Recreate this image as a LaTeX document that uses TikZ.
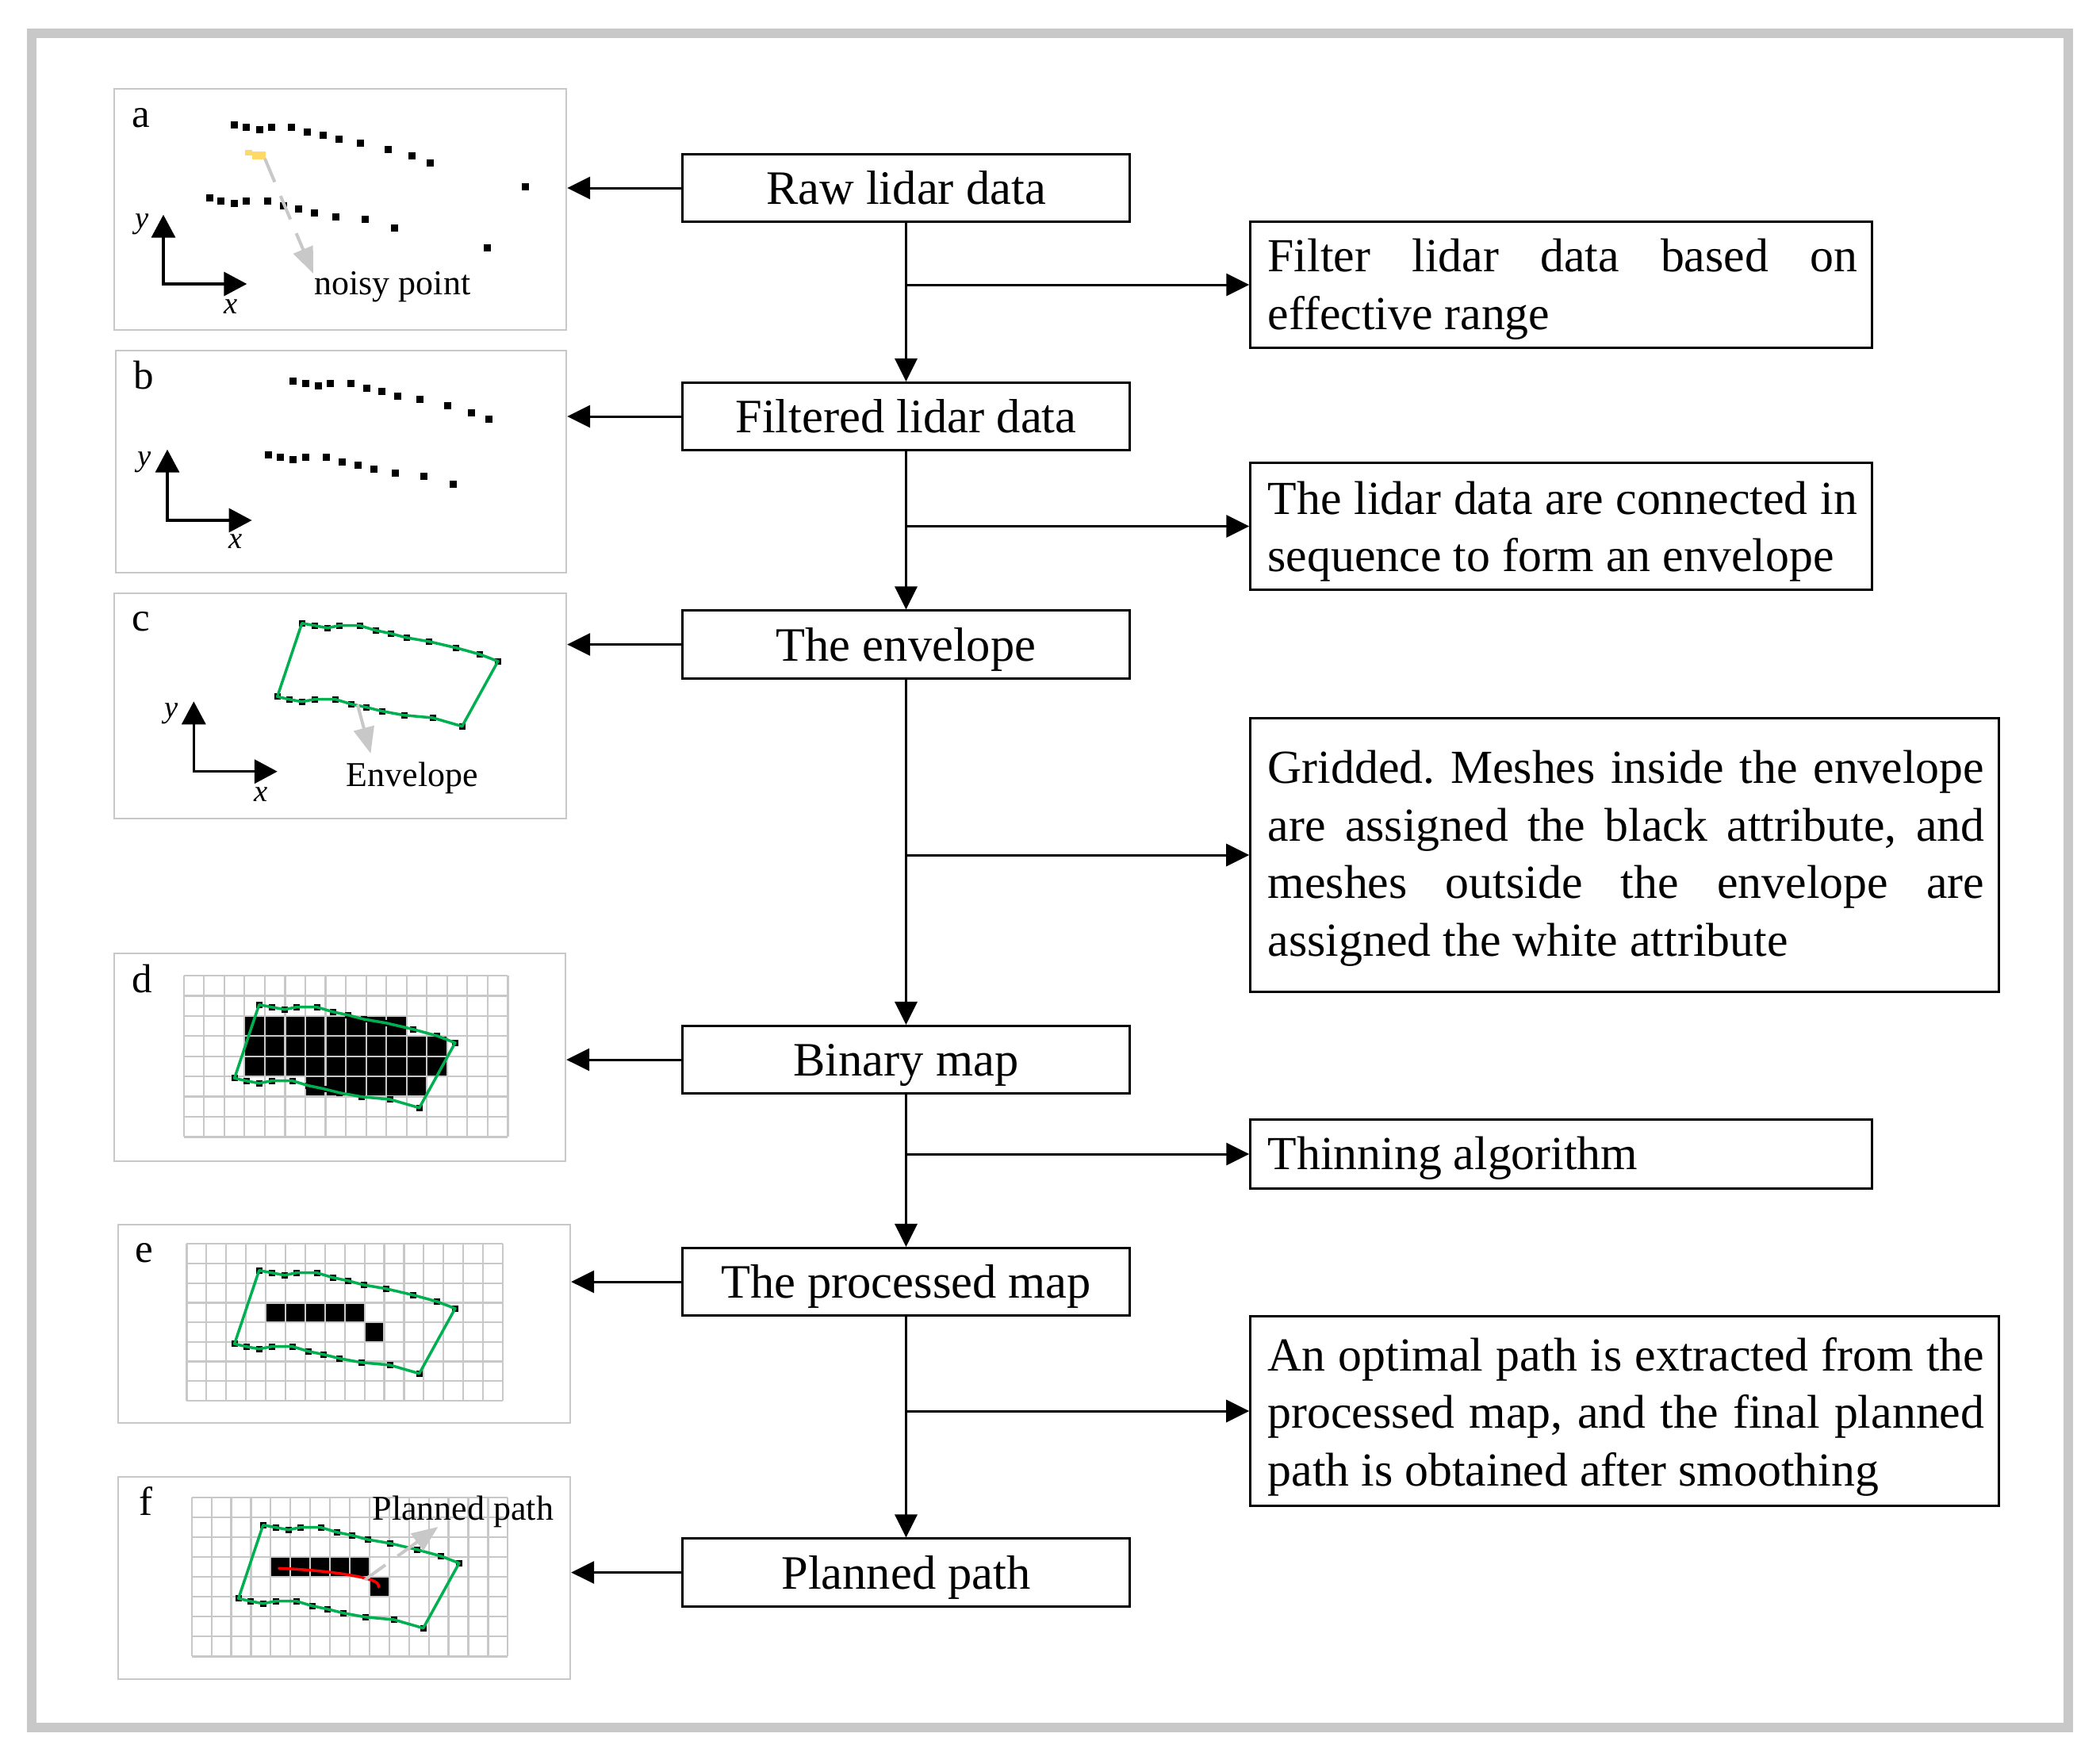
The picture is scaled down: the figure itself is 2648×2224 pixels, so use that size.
\documentclass[tikz,border=0pt]{standalone}
\usepackage{fontspec}
\setmainfont{Liberation Serif}
\usetikzlibrary{arrows.meta}
\definecolor{lgray}{RGB}{200,200,200}
\definecolor{envgreen}{RGB}{0,176,80}
\definecolor{noisy}{RGB}{255,217,102}
\newcommand\toppts{369.7/480.7, 385.6/483.7, 401.9/486.7, 416.7/483.7, 442.6/483.7, 462.6/489.7, 481.8/493.7, 501.8/499, 529.6/503.7, 564/511.7, 594.3/520, 616.9/528.7}
\newcommand\botpts{338.7/573.3, 353.5/576.7, 369.7/579.7, 385.6/576.7, 411.9/576.7, 431.9/582.7, 451.1/586.7, 471.1/591.7, 498.5/596.7, 534.7/600, 571.7/610.7}
\newcommand\envpath{(369.7,480.7) -- (385.6,483.7) -- (401.9,486.7) -- (416.7,483.7) -- (442.6,483.7) -- (462.6,489.7) -- (481.8,493.7) -- (501.8,499) -- (529.6,503.7) -- (564,511.7) -- (594.3,520) -- (616.9,528.7) -- (571.7,610.7) -- (534.7,600) -- (498.5,596.7) -- (471.1,591.7) -- (451.1,586.7) -- (431.9,582.7) -- (411.9,576.7) -- (385.6,576.7) -- (369.7,579.7) -- (353.5,576.7) -- (338.7,573.3) -- cycle}
\newcommand\jl[2]{\makebox[#1][s]{#2}}
\newcommand\ns{\spaceskip=0pt\relax\xspaceskip=0pt\relax}
\newcommand\gridlines{%
  \foreach \i in {0,...,16} {\draw[gridl] (\i,0) -- (\i,8);}
  \foreach \j in {0,...,8} {\draw[gridl] (0,\j) -- (16,\j);}}
\frenchspacing
\begin{document}
\begin{tikzpicture}[x=0.01cm,y=-0.01cm,
  panel/.style={draw=lgray, line width=0.02cm, inner sep=0, fill=white},
  cbox/.style={draw, line width=0.03cm, minimum width=5.63cm, minimum height=0.85cm, inner sep=0, text height=0.41cm, text depth=0cm, font=\fontsize{17.2pt}{20.5pt}\selectfont},
  rbox/.style={draw, line width=0.03cm, inner sep=0},
  rtext/.style={inner sep=0, anchor=north west, align=left, font=\fontsize{17pt}{20.6pt}\selectfont},
  arr/.style={line width=0.03cm, -{Triangle[length=0.29cm,width=0.28cm]}},
  axis/.style={line width=0.035cm, {Triangle[length=0.29cm,width=0.30cm]}-{Triangle[length=0.29cm,width=0.30cm]}},
  garr/.style={draw=lgray, line width=0.04cm, -{Triangle[length=0.33cm,width=0.26cm]}},
  gdash/.style={dash pattern=on 0.32cm off 0.19cm},
  env/.style={draw=envgreen, line width=0.035cm, line join=round},
  gridl/.style={draw=lgray, line width=0.022cm},
  lbl/.style={font=\fontsize{14.5pt}{17pt}\selectfont, inner sep=0, anchor=base west},
  ann/.style={font=\fontsize{12.5pt}{15pt}\selectfont, inner sep=0, anchor=base west},
  axl/.style={font=\fontsize{11pt}{13pt}\selectfont\itshape, inner sep=0}]
\useasboundingbox (0,0) rectangle (2648,2224);
\draw[draw=lgray, line width=0.12cm] (40,42) rectangle (2608,2178);

% panels
\node[panel, minimum width=5.70cm, minimum height=3.04cm] (pa) at (429,264) {};
\node[panel, minimum width=5.68cm, minimum height=2.80cm] (pb) at (430,582) {};
\node[panel, minimum width=5.70cm, minimum height=2.84cm] (pc) at (429,890) {};
\node[panel, minimum width=5.69cm, minimum height=2.62cm] (pd) at (428.5,1333) {};
\node[panel, minimum width=5.70cm, minimum height=2.50cm] (pe) at (434,1669) {};
\node[panel, minimum width=5.70cm, minimum height=2.55cm] (pf) at (434,1989.5) {};

\node[lbl] (la) at (166,160) {a};
\node[lbl] (lb) at (168,490) {b};
\node[lbl] (lc) at (166,795) {c};
\node[lbl] (ld) at (166,1251.7) {d};
\node[lbl] (le) at (170,1591.7) {e};
\node[lbl] (lf) at (175,1910) {f};

% panel a
\begin{scope}[shift={(-74.7,-323.5)}]
\foreach \x/\y in \toppts {\fill (\x-4.5,\y-4.5) rectangle (\x+4.5,\y+4.5);}
\foreach \x/\y in \botpts {\fill (\x-4.5,\y-4.5) rectangle (\x+4.5,\y+4.5);}
\end{scope}
\fill (657.5,231.2) rectangle (666.5,240.2);
\fill (609.5,308.2) rectangle (618.5,317.2);
\fill[noisy] (309.4,189) rectangle (317.6,195.7);
\fill[noisy] (317.6,191) rectangle (335,200.7);
\coordinate (na) at (334,200);
\coordinate (nb) at (395,345);
\draw[garr, gdash] (na) -- (nb);
\node[ann] (tnoisy) at (396,371.7) {noisy point};
\draw[axis] (206,270.7) -- (206,358) -- (311.3,358);
\node[axl] (ya) at (179,283) {y};
\node[axl] (xa) at (291,387) {x};

% panel b
\foreach \x/\y in \toppts {\fill (\x-4.5,\y-4.5) rectangle (\x+4.5,\y+4.5);}
\foreach \x/\y in \botpts {\fill (\x-4.5,\y-4.5) rectangle (\x+4.5,\y+4.5);}
\draw[axis] (211,566.7) -- (211,656) -- (317.6,656);
\node[axl] (yb) at (182.5,583) {y};
\node[axl] (xb) at (297,683) {x};

% panel c
\begin{scope}[shift={(11,305)}]
\foreach \x/\y in \toppts {\fill (\x-4,\y-4) rectangle (\x+4,\y+4);}
\foreach \x/\y in \botpts {\fill (\x-4,\y-4) rectangle (\x+4,\y+4);}
\draw[env] \envpath;
\end{scope}
\coordinate (ea) at (450.8,888.3);
\coordinate (eb) at (467.4,950);
\draw[garr] (ea) -- (eb);
\node[ann] (tenv) at (436,991.7) {Envelope};
\draw[axis] (244.3,884.3) -- (244.3,972.7) -- (349.8,972.7);
\node[axl] (yc) at (215.8,900) {y};
\node[axl] (xc) at (329.4,1001.7) {x};

% panel d
\begin{scope}[shift={(231.7,1230)}, x=0.2553cm, y=-0.2541cm]
\fill (3,2) rectangle (11,3);
\fill (3,3) rectangle (13,5);
\fill (6,5) rectangle (12,6);
\gridlines
\end{scope}
\begin{scope}[shift={(-43,786)}]
\foreach \x/\y in \toppts {\fill (\x-4,\y-4) rectangle (\x+4,\y+4);}
\foreach \x/\y in \botpts {\fill (\x-4,\y-4) rectangle (\x+4,\y+4);}
\draw[env] \envpath;
\end{scope}

% panel e
\begin{scope}[shift={(235.4,1568.3)}, x=0.249cm, y=-0.2468cm]
\fill (4,3) rectangle (9,4);
\fill (9,4) rectangle (10,5);
\gridlines
\end{scope}
\begin{scope}[shift={(-43,1121)}]
\foreach \x/\y in \toppts {\fill (\x-4,\y-4) rectangle (\x+4,\y+4);}
\foreach \x/\y in \botpts {\fill (\x-4,\y-4) rectangle (\x+4,\y+4);}
\draw[env] \envpath;
\end{scope}

% panel f
\begin{scope}[shift={(241.7,1887.7)}, x=0.249cm, y=-0.2508cm]
\fill (4,3) rectangle (9,4);
\fill (9,4) rectangle (10,5);
\gridlines
\end{scope}
\begin{scope}[shift={(-38,1442)}]
\foreach \x/\y in \toppts {\fill (\x-4,\y-4) rectangle (\x+4,\y+4);}
\foreach \x/\y in \botpts {\fill (\x-4,\y-4) rectangle (\x+4,\y+4);}
\draw[env] \envpath;
\end{scope}
\draw[red, line width=0.035cm, line cap=round] (351.6,1977.3) .. controls (400,1979) and (445,1985) .. (465,1991) .. controls (475,1994) and (478,1997) .. (477.4,2001);
\coordinate (pa1) at (460,1991.7);
\coordinate (pa2) at (552.5,1925);
\draw[garr, gdash] (pa1) -- (pa2);
\node[ann] (tplan) at (469,1916.7) {Planned path};

% center column
\node[cbox] (c1) at (1142.5,237) {Raw lidar data};
\node[cbox] (c2) at (1142.5,525) {Filtered lidar data};
\node[cbox] (c3) at (1142.5,812.5) {The envelope};
\node[cbox] (c4) at (1142.5,1336) {Binary map};
\node[cbox] (c5) at (1142.5,1616) {The processed map};
\node[cbox] (c6) at (1142.5,1982.5) {Planned path};

% right column boxes
\node[rbox, minimum width=7.83cm, minimum height=1.58cm] (r1) at (1968.5,359) {};
\node[rbox, minimum width=7.83cm, minimum height=1.59cm] (r2) at (1968.5,663.5) {};
\node[rbox, minimum width=9.43cm, minimum height=3.44cm] (r3) at (2048.5,1078) {};
\node[rbox, minimum width=7.83cm, minimum height=0.86cm] (r4) at (1968.5,1455) {};
\node[rbox, minimum width=9.43cm, minimum height=2.38cm] (r5) at (2048.5,1779) {};
% right column texts
\node[rtext, text width=7.43cm] (t1) at (1598,300.7) {\ns\jl{7.43cm}{Filter lidar data based on}\\effective range};
\node[rtext, text width=7.43cm] (t2) at (1598,606) {\ns\jl{7.43cm}{The lidar data are connected in}\\sequence to form an envelope};
\node[rtext, text width=9.03cm] (t3) at (1598,945.7) {\ns\jl{9.03cm}{Gridded. Meshes inside the envelope}\\\jl{9.03cm}{are assigned the black attribute, and}\\\jl{9.03cm}{meshes outside the envelope are}\\assigned the white attribute};
\node[rtext, text width=7.43cm] (t4) at (1598,1432) {\ns Thinning algorithm};
\node[rtext, text width=9.03cm] (t5) at (1598,1685.6) {\ns\jl{9.03cm}{An optimal path is extracted from the}\\\jl{9.03cm}{processed map, and the final planned}\\path is obtained after smoothing};

% vertical flow
\draw[arr] (c1.south) -- (c2.north);
\draw[arr] (c2.south) -- (c3.north);
\draw[arr] (c3.south) -- (c4.north);
\draw[arr] (c4.south) -- (c5.north);
\draw[arr] (c5.south) -- (c6.north);
% branches
\coordinate (j1) at (c1.south |- r1.west);
\coordinate (j2) at (c2.south |- r2.west);
\coordinate (j3) at (c3.south |- r3.west);
\coordinate (j4) at (c4.south |- r4.west);
\coordinate (j5) at (c5.south |- r5.west);
\draw[arr] (j1) -- (r1.west);
\draw[arr] (j2) -- (r2.west);
\draw[arr] (j3) -- (r3.west);
\draw[arr] (j4) -- (r4.west);
\draw[arr] (j5) -- (r5.west);
% left arrows
\draw[arr] (c1.west) -- (c1.west -| pa.east);
\draw[arr] (c2.west) -- (c2.west -| pb.east);
\draw[arr] (c3.west) -- (c3.west -| pc.east);
\draw[arr] (c4.west) -- (c4.west -| pd.east);
\draw[arr] (c5.west) -- (c5.west -| pe.east);
\draw[arr] (c6.west) -- (c6.west -| pf.east);
\end{tikzpicture}
\end{document}
